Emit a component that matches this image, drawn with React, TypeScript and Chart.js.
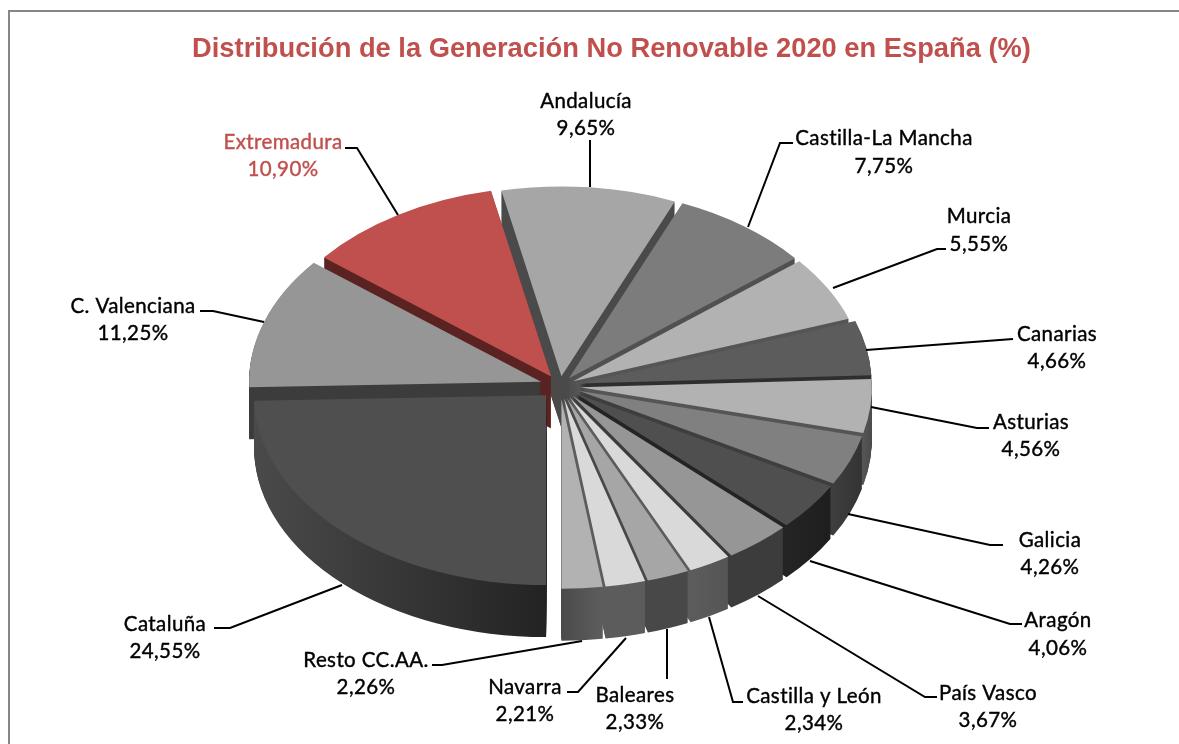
import React, { useEffect, useRef } from "react";
import { Chart, registerables } from "chart.js";

Chart.register(...registerables);

// ---- data ----
const regions = ["Cataluña", "C. Valenciana", "Extremadura", "Andalucía", "Castilla-La Mancha", "Murcia", "Canarias", "Asturias", "Galicia", "Aragón", "País Vasco", "Castilla y León", "Baleares", "Navarra", "Resto CC.AA."];
const shares = [24.55, 11.25, 10.9, 9.65, 7.75, 5.55, 4.66, 4.56, 4.26, 4.06, 3.67, 2.34, 2.33, 2.21, 2.26];

// ---- style ----
const topColors = ["#4f4f4f", "#969696", "#c0504d", "#a6a6a6", "#7c7c7c", "#b2b2b2", "#5c5c5c", "#b2b2b2", "#808080", "#4f4f4f", "#969696", "#d9d9d9", "#a6a6a6", "#d9d9d9", "#b2b2b2"];
const sideFrom = ["#4a4a4a", "#3c3c3c", "#5a2321", "#4a4a4a", "#505050", "#555555", "#2e2e2e", "#555555", "#3e3e3e", "#242424", "#3c3c3c", "#5c5c5c", "#484848", "#5c5c5c", "#4a4a4a"];
const sideTo = ["#232323", "#3c3c3c", "#5a2321", "#4a4a4a", "#505050", "#555555", "#2e2e2e", "#4a4a4a", "#333333", "#1e1e1e", "#3c3c3c", "#555555", "#484848", "#5c5c5c", "#5e5e5e"];
const explode = [20, 20, 17, 15, 15, 15, 20, 20, 20, 20, 20, 20, 20, 20, 20];

const PIE_X = 560;
const PIE_Y = 386;
const PIE_RADIUS = 292;
const TILT = 0.65;
const DEPTH = 52;
const RED = "#c0504d";
const LABEL_FONT = "20.5px Lato";

// label layout: text centre x, first line y, second line y, leader polyline
const labelLayout: [number, number, number, number[][]][] = [
  [165, 624, 651, [[342, 585], [230, 628], [214, 628]]],
  [133, 306, 333, [[264, 322], [213, 311], [200, 311]]],
  [283, 142, 169, [[398, 215], [357, 148], [345, 148]]],
  [586, 101, 128, [[590, 187], [590, 140]]],
  [884, 138, 166, [[748, 227], [780, 143], [793, 143]]],
  [979, 216, 244, [[833, 288], [937, 249], [946, 249]]],
  [1057, 334, 361, [[866, 350], [1013, 339]]],
  [1031, 422, 449, [[871, 407], [977, 428], [989, 428]]],
  [1050, 540, 567, [[848, 514], [990, 545], [1003, 545]]],
  [1058, 620, 648, [[810, 561], [1010, 624], [1022, 624]]],
  [988, 693, 720, [[758, 596], [925, 697], [937, 697]]],
  [814, 696, 723, [[709, 617], [733, 702], [743, 702]]],
  [635, 695, 722, [[667, 629], [667, 679]]],
  [525, 687, 714, [[626, 638], [578, 692], [567, 692]]],
  [366, 660, 687, [[582, 641], [442, 665], [432, 665]]],
];

const frame = {
  id: "frame",
  beforeDraw(chart: any) {
    const c = chart.ctx;
    c.save();
    c.strokeStyle = "#868686";
    c.lineWidth = 2;
    c.strokeRect(9, 11, 1400, 1000);
    c.restore();
  },
};

const pie3d = {
  id: "pie3d",
  beforeDatasetsDraw(chart: any) {
    const c = chart.ctx;
    const arcs = chart.getDatasetMeta(0).data;
    const gradients = arcs.map((arc: any, i: number) => {
      const a = arc.x + Math.cos(arc.startAngle) * PIE_RADIUS;
      const b = arc.x + Math.cos(arc.endAngle) * PIE_RADIUS;
      const g = c.createLinearGradient(Math.min(a, b), 0, Math.max(a, b) + 1, 0);
      g.addColorStop(0, sideFrom[i]);
      g.addColorStop(1, sideTo[i]);
      return g;
    });
    const paint = (arc: any, i: number, depth: number, fill: any) => {
      const mid = (arc.startAngle + arc.endAngle) / 2;
      const e = explode[i];
      const copy = Object.create(arc);
      copy.options = { ...arc.options, backgroundColor: fill, borderWidth: 0, offset: 0 };
      c.save();
      c.translate(PIE_X + Math.cos(mid) * e, PIE_Y + depth + Math.sin(mid) * e * TILT);
      c.scale(1, TILT);
      c.translate(-arc.x, -arc.y);
      copy.draw(c);
      c.restore();
    };
    for (let d = DEPTH; d >= 1; d--) {
      arcs.forEach((arc: any, i: number) => paint(arc, i, d, gradients[i]));
    }
    arcs.forEach((arc: any, i: number) => paint(arc, i, 0, topColors[i]));
    return false;
  },
  afterDraw(chart: any) {
    const c = chart.ctx;
    c.save();
    c.strokeStyle = "#000000";
    c.lineWidth = 2;
    labelLayout.forEach(([, , , line]) => {
      c.beginPath();
      line.forEach(([x, y], k) => (k ? c.lineTo(x, y) : c.moveTo(x, y)));
      c.stroke();
    });
    c.font = LABEL_FONT;
    c.letterSpacing = "0.4px";
    c.textAlign = "center";
    c.textBaseline = "middle";
    c.lineWidth = 0.4;
    regions.forEach((name, i) => {
      const [x, y1, y2] = labelLayout[i];
      const ink = name === "Extremadura" ? RED : "#000000";
      const share = shares[i].toFixed(2).replace(".", ",") + "%";
      c.fillStyle = ink;
      c.strokeStyle = ink;
      c.fillText(name, x, y1);
      c.strokeText(name, x, y1);
      c.fillText(share, x, y2);
      c.strokeText(share, x, y2);
    });
    c.restore();
  },
};

export default function App() {
  const ref = useRef<HTMLCanvasElement>(null);
  useEffect(() => {
    document.body.style.margin = "0";
    document.body.style.background = "#ffffff";
    const chart = new Chart(ref.current as HTMLCanvasElement, {
      type: "pie",
      data: {
        labels: regions,
        datasets: [{ data: shares, backgroundColor: topColors, borderWidth: 0 }],
      },
      options: {
        responsive: false,
        animation: false,
        rotation: 180,
        radius: PIE_RADIUS,
        layout: { padding: { left: 44, right: 0, top: 0, bottom: 0 } },
        plugins: {
          legend: { display: false },
          tooltip: { enabled: false },
          title: {
            display: true,
            text: "Distribución de la Generación No Renovable 2020 en España (%)",
            color: RED,
            fullSize: false,
            font: { family: "Liberation Sans", size: 27.3, weight: "bold" },
            padding: { top: 33, bottom: 10 },
          },
        },
      } as any,
      plugins: [frame, pie3d],
    });
    return () => chart.destroy();
  }, []);
  return <canvas ref={ref} width={1179} height={744} style={{ display: "block" }} />;
}
